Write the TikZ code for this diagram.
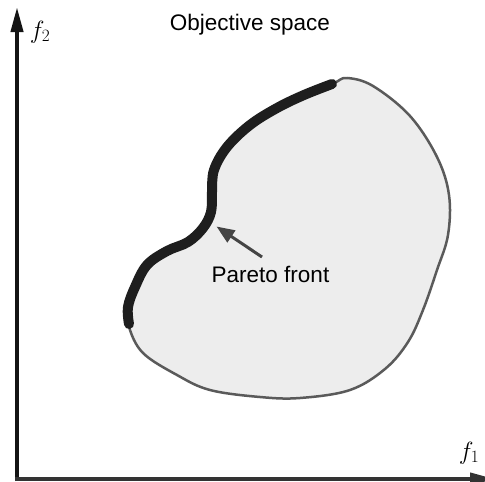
\documentclass[tikz,border=0pt]{standalone}
\usepackage{fontspec}
\setmainfont{Liberation Sans}
\usetikzlibrary{arrows.meta}
\definecolor{regionfill}{HTML}{EDEDED}
\definecolor{regionline}{HTML}{5A5A5A}
\definecolor{frontcol}{HTML}{1E1E1E}
\definecolor{pointer}{HTML}{444444}
\tikzset{
  axis/.style={line width=4pt, -{Triangle[length=25pt,width=12pt]}},
  sanslabel/.style={font=\fontsize{22.5}{26}\selectfont, inner sep=0pt},
  mathlabel/.style={font=\fontsize{24}{28}\selectfont, inner sep=0pt},
}
\begin{document}
\begin{tikzpicture}[x=1pt,y=-1pt]
\clip (0,0) rectangle (485,482);
\fill[white] (0,0) rectangle (485,482);
% region
\filldraw[fill=regionfill, draw=regionline, line width=2.5pt]
  plot[smooth cycle, tension=0.6] coordinates {
  (129,327) (128,307) (135,287) (147,265) (167,251) (188,242) (203,228)
  (211,212) (212,192) (214,170) (227,147) (250,125) (277,108) (304,95) (334,83)
  (347,78) (373,86) (410,116) (437,157) (449,195) (448,235)
  (437,270) (423,310) (408,342) (385,369) (350,390) (300,398) (260,397)
  (210,390) (177,375) (143,353)};
% Pareto front
\draw[frontcol, line width=10pt, line cap=round, line join=round]
  plot[smooth, tension=0.6] coordinates {
  (129,324) (128,307) (135,287) (147,265) (167,251) (188,242) (203,228)
  (211,212) (212,192) (214,170) (227,147) (250,125) (277,108) (304,95) (332,84)};
% axes
\coordinate (O) at (17,479);
\coordinate (ytop) at (17,7);
\coordinate (xend) at (495,479);
\draw[axis, color=black!92] (17,481) -- (ytop);
\draw[axis, color=black!80] (15,479) -- (xend);
% labels
\node[mathlabel] (f2) at (40,32) {$f_2$};
\node[mathlabel] (f1) at (469,453) {$f_1$};
\node[sanslabel, anchor=base] (title) at (250,30) {Objective space};
\node[sanslabel, anchor=base] (pf) at (270.5,282) {Pareto front};
% pointer
\coordinate (tail) at (262,257);
\coordinate (tip) at (216.5,226.5);
\draw[pointer, line width=3pt, -{Triangle[length=18pt,width=14pt]}] (tail) -- (tip);
\end{tikzpicture}
\end{document}
